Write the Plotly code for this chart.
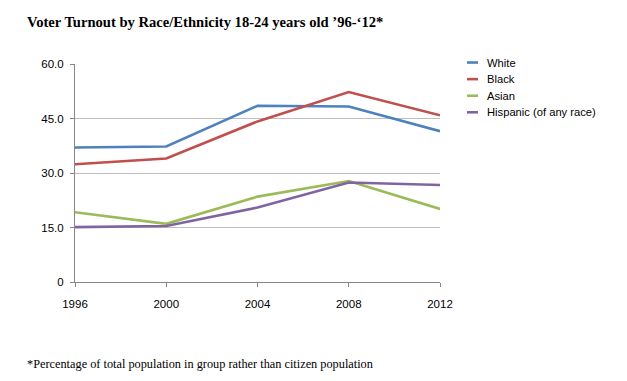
import plotly.graph_objects as go

years = [1996, 2000, 2004, 2008, 2012]
white = [37.0, 37.3, 48.5, 48.3, 41.5]
black = [32.4, 34.0, 44.2, 52.3, 45.9]
asian = [19.2, 16.0, 23.5, 27.8, 20.1]
hispanic = [15.1, 15.4, 20.5, 27.4, 26.7]
series_names = ["White", "Black", "Asian", "Hispanic (of any race)"]
colors = ["#4F81BD", "#C0504D", "#9BBB59", "#8064A2"]
y_ticks = [0, 15, 30, 45, 60]
y_ticktext = ["0", "15.0", "30.0", "45.0", "60.0"]

# page body has an 8px margin; target pixel positions are shifted by it
OFF = 8
W, H = 627, 381
plot_left, plot_right, plot_top, plot_bottom = 75 - OFF, 440 - OFF, 63.5 - OFF, 282.5 - OFF
L, R, T, B = plot_left, W - plot_right, plot_top, H - plot_bottom
pw, ph = plot_right - plot_left, plot_bottom - plot_top


def px(x):
    return (x - OFF - plot_left) / pw


def py(y):
    return (plot_bottom - (y - OFF)) / ph


fig = go.Figure()
for name, vals, c in zip(series_names, [white, black, asian, hispanic], colors):
    fig.add_trace(go.Scatter(x=years, y=vals, mode="lines", name=name,
                             line=dict(color=c, width=2.6)))

fig.update_layout(
    width=W, height=H,
    margin=dict(l=L, r=R, t=T, b=B),
    plot_bgcolor="white", paper_bgcolor="white",
    font=dict(family="Liberation Sans, Arial, sans-serif", size=11.5, color="#000"),
    title=dict(text="<b>Voter Turnout by Race/Ethnicity 18-24 years old ’96-‘12*</b>",
               font=dict(family="Liberation Serif, DejaVu Serif, serif", size=14.6, color="#000"),
               x=(27 - OFF) / W, xanchor="left", xref="container",
               y=1 - (22 - OFF) / H, yanchor="middle", yref="container"),
    showlegend=False,
    xaxis=dict(range=[1996, 2012], tickvals=years, ticktext=[str(y) for y in years],
               showgrid=False, showline=True, linecolor="#868686", linewidth=1,
               ticks="outside", ticklen=4, tickcolor="#868686", zeroline=False,
               ticklabelstandoff=7, tickfont=dict(size=11.5), fixedrange=True),
    yaxis=dict(range=[0, 60], tickvals=y_ticks, ticktext=y_ticktext,
               showgrid=True, gridcolor="#BFBFBF", gridwidth=1,
               showline=True, linecolor="#868686", linewidth=1,
               ticks="outside", ticklen=4, tickcolor="#868686", zeroline=False,
               ticklabelstandoff=4, tickfont=dict(size=11.5), fixedrange=True),
)

# legend drawn as short line samples + labels (Excel style)
legend_rows = [62, 78.7, 95.4, 112]
for name, c, ry in zip(series_names, colors, legend_rows):
    fig.add_shape(type="line", xref="paper", yref="paper",
                  x0=px(467), x1=px(478), y0=py(ry), y1=py(ry),
                  line=dict(color=c, width=2.6))
    fig.add_annotation(text=name, xref="paper", yref="paper",
                       x=px(485), y=py(ry), xanchor="left", yanchor="middle",
                       showarrow=False, font=dict(size=11.2, color="#000"))

fig.add_annotation(text="*Percentage of total population in group rather than citizen population",
                   xref="paper", yref="paper", x=px(24.5), y=py(365),
                   xanchor="left", yanchor="middle", showarrow=False,
                   font=dict(family="Liberation Serif, DejaVu Serif, serif", size=12.3, color="#000"))

fig.write_html("out.html")
